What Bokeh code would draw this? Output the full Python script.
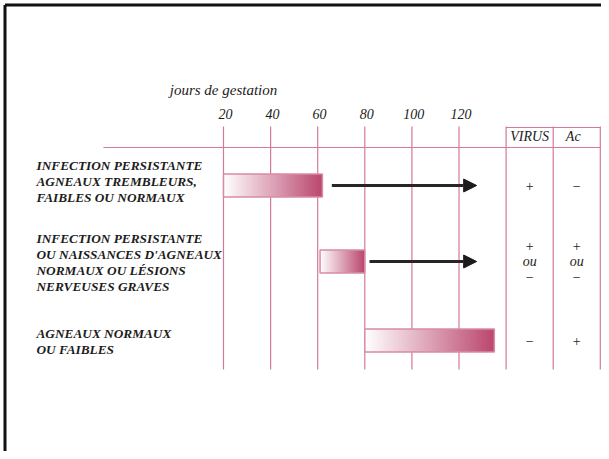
from bokeh.plotting import figure
from bokeh.models import Range1d, ColumnDataSource, Arrow, NormalHead
from bokeh.core.properties import value
from bokeh.embed import file_html
from bokeh.resources import INLINE

# ---- data ----
axis_title = "jours de gestation"
day_ticks = [20, 40, 60, 80, 100, 120]
row_labels = [
    ["INFECTION PERSISTANTE", "AGNEAUX TREMBLEURS,", "FAIBLES OU NORMAUX"],
    ["INFECTION PERSISTANTE", "OU NAISSANCES D'AGNEAUX", "NORMAUX OU LÉSIONS", "NERVEUSES GRAVES"],
    ["AGNEAUX NORMAUX", "OU FAIBLES"],
]
bar_start = [20, 61, 80]
bar_end = [62, 80, 135]
arrow_rows = [0, 1]
arrow_start = [66, 82]
arrow_end = [127.5, 127.5]
col_headers = ["VIRUS", "Ac"]
virus_result = [["+"], ["+", "ou", "\u2212"], ["\u2212"]]
ac_result = [["\u2212"], ["+", "ou", "\u2212"], ["+"]]

# ---- layout (pixels down the page, days across) ----
W, H = 601, 451
row_y = [185, 261, 340]
label_top = [158, 231, 326]
line_step = 16
bar_half = 11.5
col_edges = [140, 160, 180]
grid_top, grid_bottom = 126, 369
header_line_y = 147
header_left = -31

PINK = "#d4789c"
DARK = "#1c1c1c"
SERIF = value("Liberation Serif")

# 2.355 px per day, day 20 at 223 px from the left edge
x0_day = 20 - 223 / 2.355
p = figure(width=W, height=H, x_range=Range1d(x0_day, x0_day + W / 2.355), y_range=Range1d(H, 0),
           output_backend="svg", toolbar_location=None, x_axis_type=None, y_axis_type=None,
           min_border=0, outline_line_color=None)
p.grid.visible = False

# frame (top and left edges)
fx = x0_day + 4.5 / 2.355
p.segment(x0=[fx, fx], y0=[4.5, 4.5], x1=[fx, 190], y1=[470, 4.5],
          line_color="#111111", line_width=3)

# grid lines for days
p.segment(x0=day_ticks, x1=day_ticks, y0=[grid_top] * len(day_ticks), y1=[grid_bottom] * len(day_ticks),
          line_color=PINK, line_width=1.2)
# result columns
p.segment(x0=col_edges, x1=col_edges, y0=[grid_top] * 3, y1=[grid_bottom] * 3,
          line_color=PINK, line_width=1.2)
p.segment(x0=[col_edges[0], header_left], x1=[col_edges[-1], col_edges[-1]],
          y0=[grid_top + 1, header_line_y], y1=[grid_top + 1, header_line_y],
          line_color=PINK, line_width=1.2)

# axis title and ticks
p.text(x=[20], y=[89], text=[axis_title], text_font=SERIF, text_font_style="italic",
       text_font_size="15px", text_align="center", text_baseline="middle", text_color=DARK)
p.text(x=[t + 0.8 for t in day_ticks], y=[113] * len(day_ticks), text=[str(t) for t in day_ticks],
       text_font=SERIF, text_font_style="italic", text_font_size="14px",
       text_align="center", text_baseline="middle", text_color=DARK)

# column headers
p.text(x=[(col_edges[0] + col_edges[1]) / 2, (col_edges[1] + col_edges[2]) / 2 - 1.5], y=[136, 136],
       text=col_headers, text_font=SERIF, text_font_style="italic", text_font_size="14px",
       text_align="center", text_baseline="middle", text_color=DARK)

# gradient bars
def lerp(c0, c1, t):
    return "#%02x%02x%02x" % tuple(int(round(a + (b - a) * t)) for a, b in zip(c0, c1))

c_from, c_to = (255, 255, 255), (186, 70, 110)
N = 50
gl, gr, gt, gb, gc = [], [], [], [], []
for i, (s, e) in enumerate(zip(bar_start, bar_end)):
    w = (e - s) / N
    for k in range(N):
        gl.append(s + w * k)
        gr.append(min(e, s + w * (k + 2)))
        gt.append(row_y[i] - bar_half)
        gb.append(row_y[i] + bar_half)
        gc.append(lerp(c_from, c_to, (k + 0.5) / N))
p.quad(left=gl, right=gr, top=gt, bottom=gb, fill_color=gc, line_color=None)
p.quad(left=bar_start, right=bar_end, top=[row_y[i] - bar_half for i in range(3)],
       bottom=[row_y[i] + bar_half for i in range(3)], fill_color=None, line_color="#d88aa6",
       line_width=1.5)

# arrows
asrc = ColumnDataSource(dict(x0=arrow_start, x1=arrow_end, y=[row_y[r] for r in arrow_rows]))
p.add_layout(Arrow(end=NormalHead(size=13, fill_color=DARK, line_color=DARK, line_width=1),
                   x_start="x0", y_start="y", x_end="x1", y_end="y", source=asrc,
                   line_color="#262626", line_width=3))

# row labels
lx, ly, lt = [], [], []
for i, lines in enumerate(row_labels):
    for j, s in enumerate(lines):
        lx.append(x0_day + 36 / 2.355)
        ly.append(label_top[i] + 7 + j * line_step)
        lt.append(s)
p.text(x=lx, y=ly, text=lt, text_font=SERIF, text_font_style="bold italic", text_font_size="13.3px",
       text_align="left", text_baseline="middle", text_color=DARK)

# results
rx, ry, rt, rs = [], [], [], []
for ci, res in enumerate([virus_result, ac_result]):
    cx = (col_edges[ci] + col_edges[ci + 1]) / 2
    for i, items in enumerate(res):
        n = len(items)
        for j, s in enumerate(items):
            rx.append(cx)
            ry.append(row_y[i] + (j - (n - 1) / 2) * 15.5)
            rt.append(s)
            rs.append("italic" if s == "ou" else "normal")
src = ColumnDataSource(dict(x=rx, y=ry, t=rt, s=rs))
p.text(x="x", y="y", text="t", source=src, text_font=SERIF, text_font_style="s",
       text_font_size="14px", text_align="center", text_baseline="middle", text_color=DARK)

open("out.html", "w").write(file_html(p, INLINE))
